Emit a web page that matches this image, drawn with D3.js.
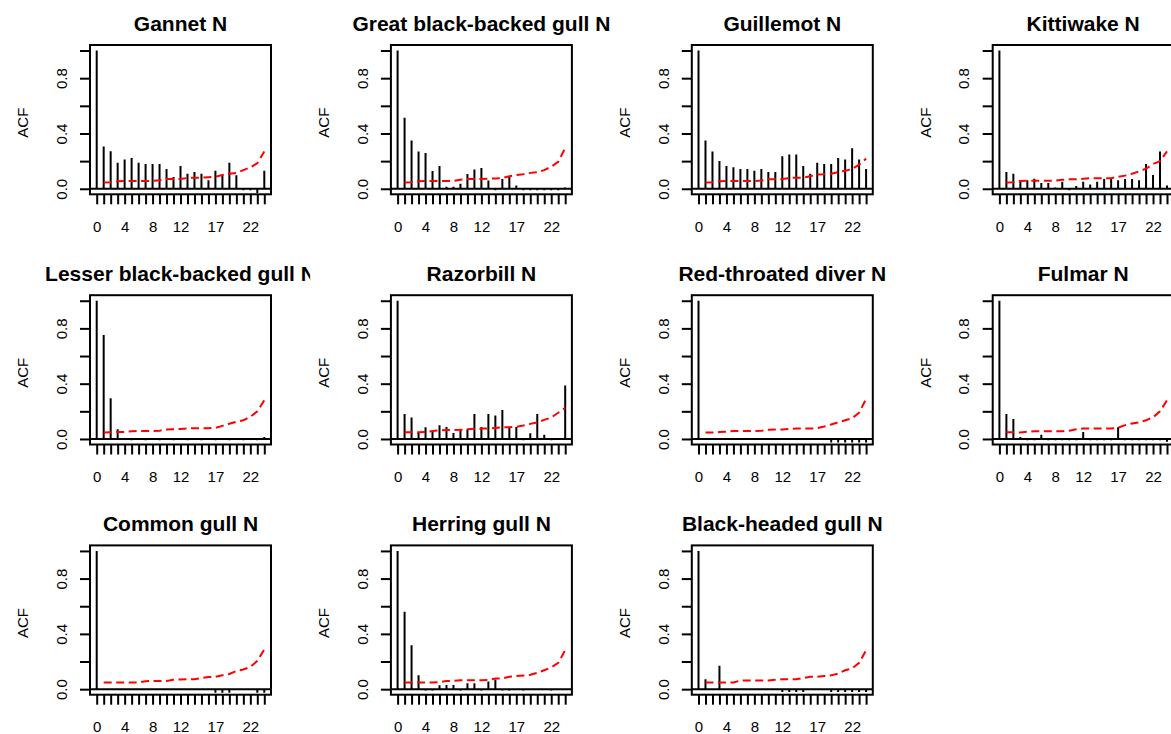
<!DOCTYPE html>
<html>
<head>
<meta charset="utf-8">
<script src="https://cdn.jsdelivr.net/npm/d3@7"></script>
<style>
  body { margin: 0; background: #fff; }
  svg { display: block; font-family: "Liberation Sans", Arial, sans-serif; }
</style>
</head>
<body>
<div id="chart"></div>
<script>
// lags shown on every panel, and which of them get a label
const lags = [0, 1, 2, 3, 4, 5, 6, 7, 8, 9, 10, 11, 12, 13, 14, 15, 16, 17, 18, 19, 20, 21, 22, 23, 24];
const xLabelLags = [0, 4, 8, 12, 17, 22];
const yTicks = [0, 0.2, 0.4, 0.6, 0.8, 1.0];
const yLabelTicks = [0, 0.4, 0.8];

const titles = ["Gannet N", "Great black-backed gull N", "Guillemot N", "Kittiwake N",
  "Lesser black-backed gull N", "Razorbill N", "Red-throated diver N", "Fulmar N",
  "Common gull N", "Herring gull N", "Black-headed gull N"];

// acf values, lag 0..24
const acfGannet = [1.0, 0.305, 0.271, 0.189, 0.211, 0.223, 0.189, 0.179, 0.179, 0.179, 0.143, 0.085, 0.165, 0.109, 0.121, 0.109, 0.061, 0.131, 0.104, 0.189, 0.097, -0.01, -0.01, -0.03, 0.131];
const acfGreatBB = [1.0, 0.513, 0.349, 0.269, 0.259, 0.128, 0.165, 0.015, 0.015, 0.036, 0.107, 0.14, 0.15, 0.06, -0.01, 0.07, 0.09, 0.024, -0.01, -0.01, -0.01, -0.01, -0.01, -0.01, 0.01];
const acfGuillemot = [1.0, 0.349, 0.269, 0.201, 0.165, 0.155, 0.143, 0.143, 0.131, 0.143, 0.121, 0.121, 0.235, 0.247, 0.247, 0.165, 0.109, 0.189, 0.179, 0.179, 0.223, 0.211, 0.293, 0.211, 0.143];
const acfKittiwake = [1.0, 0.121, 0.109, 0.061, 0.061, 0.073, 0.041, 0.041, 0.01, 0.051, -0.01, 0.02, 0.051, 0.03, 0.051, 0.07, 0.07, 0.061, 0.07, 0.07, 0.061, 0.179, 0.099, 0.269, 0.024];
const acfLesserBB = [1.0, 0.752, 0.294, 0.07, -0.005, -0.01, -0.005, -0.01, -0.005, -0.01, -0.005, -0.01, -0.005, -0.01, -0.005, -0.01, -0.005, -0.01, -0.005, -0.01, -0.005, -0.01, -0.005, -0.01, 0.015];
const acfRazorbill = [1.0, 0.18, 0.155, 0.046, 0.085, 0.058, 0.1, 0.087, 0.044, 0.073, 0.07, 0.18, 0.087, 0.18, 0.17, 0.21, 0.087, 0.087, -0.01, 0.041, 0.18, 0.031, -0.01, 0.0, 0.387];
const acfRedThroated = [1.0, -0.005, -0.005, -0.005, -0.005, -0.005, -0.005, -0.005, -0.005, -0.005, -0.005, -0.005, -0.005, -0.005, -0.005, -0.005, -0.005, -0.005, -0.005, -0.025, -0.025, -0.025, -0.025, -0.025, -0.025];
const acfFulmar = [1.0, 0.18, 0.145, 0.015, -0.01, -0.01, 0.03, -0.01, -0.01, -0.01, -0.01, -0.01, 0.05, -0.01, -0.01, -0.01, -0.01, 0.085, -0.01, -0.01, -0.01, -0.01, -0.01, -0.01, -0.02];
const acfCommonGull = [1.0, -0.005, -0.005, -0.005, -0.005, -0.005, -0.005, -0.005, -0.005, -0.005, -0.005, -0.005, -0.005, -0.005, -0.005, -0.005, -0.005, -0.025, -0.025, -0.025, -0.005, -0.005, -0.005, -0.025, -0.025];
const acfHerring = [1.0, 0.56, 0.318, 0.101, -0.01, -0.01, 0.029, 0.031, 0.031, -0.01, 0.043, 0.043, -0.01, 0.055, 0.07, -0.01, -0.01, 0.0, -0.01, 0.0, 0.0, 0.0, -0.01, 0.0, 0.0];
const acfBlackHeaded = [1.0, 0.072, 0.0, 0.169, -0.005, -0.005, -0.005, -0.005, -0.005, -0.005, -0.005, -0.005, -0.02, -0.02, -0.02, -0.02, -0.005, -0.005, -0.005, -0.02, -0.02, -0.02, -0.02, -0.02, -0.02];

// upper confidence bound, lag 1..24
const ciGannet = [0.046, 0.048, 0.055, 0.056, 0.056, 0.056, 0.056, 0.057, 0.062, 0.07, 0.07, 0.071, 0.078, 0.08, 0.08, 0.084, 0.087, 0.1, 0.108, 0.115, 0.135, 0.155, 0.185, 0.27];
const ciGreatBB = [0.046, 0.048, 0.055, 0.056, 0.056, 0.056, 0.056, 0.057, 0.065, 0.07, 0.07, 0.07, 0.072, 0.075, 0.078, 0.09, 0.1, 0.105, 0.115, 0.12, 0.135, 0.16, 0.195, 0.295];
const ciGuillemot = [0.046, 0.048, 0.055, 0.056, 0.056, 0.056, 0.056, 0.056, 0.06, 0.068, 0.068, 0.07, 0.078, 0.08, 0.08, 0.09, 0.103, 0.105, 0.109, 0.121, 0.131, 0.142, 0.175, 0.218];
const ciKittiwake = [0.046, 0.048, 0.056, 0.058, 0.058, 0.058, 0.058, 0.058, 0.065, 0.068, 0.068, 0.072, 0.077, 0.077, 0.077, 0.077, 0.087, 0.095, 0.109, 0.126, 0.145, 0.179, 0.2, 0.27];
const ciLesserBB = [0.046, 0.048, 0.05, 0.051, 0.056, 0.058, 0.058, 0.058, 0.06, 0.068, 0.07, 0.072, 0.076, 0.078, 0.078, 0.078, 0.08, 0.095, 0.11, 0.124, 0.135, 0.16, 0.2, 0.28];
const ciRazorbill = [0.048, 0.048, 0.048, 0.05, 0.058, 0.062, 0.065, 0.065, 0.066, 0.07, 0.074, 0.075, 0.075, 0.08, 0.085, 0.085, 0.088, 0.097, 0.109, 0.12, 0.138, 0.155, 0.19, 0.225];
const ciRedThroated = [0.046, 0.046, 0.05, 0.052, 0.058, 0.058, 0.058, 0.058, 0.06, 0.066, 0.068, 0.068, 0.072, 0.075, 0.075, 0.075, 0.078, 0.09, 0.105, 0.12, 0.135, 0.15, 0.19, 0.29];
const ciFulmar = [0.048, 0.048, 0.046, 0.052, 0.056, 0.056, 0.056, 0.056, 0.056, 0.06, 0.07, 0.075, 0.075, 0.075, 0.075, 0.075, 0.082, 0.1, 0.112, 0.12, 0.135, 0.157, 0.2, 0.28];
const ciCommonGull = [0.048, 0.048, 0.048, 0.048, 0.048, 0.048, 0.058, 0.06, 0.06, 0.06, 0.068, 0.07, 0.072, 0.072, 0.08, 0.088, 0.09, 0.1, 0.11, 0.132, 0.142, 0.161, 0.205, 0.287];
const ciHerring = [0.048, 0.048, 0.048, 0.048, 0.048, 0.05, 0.06, 0.06, 0.065, 0.065, 0.065, 0.065, 0.066, 0.077, 0.077, 0.09, 0.096, 0.098, 0.104, 0.118, 0.137, 0.157, 0.19, 0.282];
const ciBlackHeaded = [0.048, 0.048, 0.048, 0.048, 0.048, 0.063, 0.063, 0.063, 0.063, 0.063, 0.068, 0.072, 0.072, 0.072, 0.08, 0.09, 0.09, 0.095, 0.1, 0.113, 0.137, 0.15, 0.19, 0.282];

const acfs = [acfGannet, acfGreatBB, acfGuillemot, acfKittiwake, acfLesserBB, acfRazorbill,
  acfRedThroated, acfFulmar, acfCommonGull, acfHerring, acfBlackHeaded];
const cis = [ciGannet, ciGreatBB, ciGuillemot, ciKittiwake, ciLesserBB, ciRazorbill,
  ciRedThroated, ciFulmar, ciCommonGull, ciHerring, ciBlackHeaded];

const W = 1171, H = 734;
const FIG_W = 300.9, FIG_H = 250.2;   // one cell of the 4 x 3 grid
const BOX_W = 181, BOX_H = 149.3;

const svg = d3.select("#chart").append("svg")
  .attr("width", W).attr("height", H);

titles.forEach(function(title, i) {
  let col = i % 4, row = Math.floor(i / 4);
  let left = 90 + col * FIG_W, top = 45 + row * FIG_H;

  let x = d3.scaleLinear().domain([-0.96, 24.96]).range([left, left + BOX_W]);
  let y = d3.scaleLinear().domain([-0.04, 1.04]).range([top + BOX_H, top]);

  let g = svg.append("g").attr("class", "panel");

  // clip for the marks (plot region) and for the title (figure region)
  g.append("clipPath").attr("id", "plot-" + i)
    .append("rect").attr("x", left).attr("y", top).attr("width", BOX_W).attr("height", BOX_H);
  g.append("clipPath").attr("id", "fig-" + i)
    .append("rect").attr("x", left - 80.7).attr("y", top - 45).attr("width", FIG_W).attr("height", FIG_H);

  let plot = g.append("g").attr("clip-path", `url(#plot-${i})`);

  // zero line
  plot.append("line")
    .attr("x1", left).attr("x2", left + BOX_W)
    .attr("y1", y(0)).attr("y2", y(0))
    .attr("stroke", "#000").attr("stroke-width", 2);

  // acf spikes
  plot.selectAll("line.spike").data(acfs[i]).enter()
    .append("line").attr("class", "spike")
    .attr("x1", (d, k) => x(lags[k])).attr("x2", (d, k) => x(lags[k]))
    .attr("y1", y(0)).attr("y2", d => y(d))
    .attr("stroke", "#000").attr("stroke-width", 2);

  // upper bound, dashed red
  let line = d3.line().x((d, k) => x(lags[k + 1])).y(d => y(d));
  plot.append("path")
    .attr("d", line(cis[i]))
    .attr("fill", "none").attr("stroke", "#ff0000")
    .attr("stroke-width", 2).attr("stroke-dasharray", "8,4.5");

  // box
  g.append("rect")
    .attr("x", left).attr("y", top).attr("width", BOX_W).attr("height", BOX_H)
    .attr("fill", "none").attr("stroke", "#000").attr("stroke-width", 2);

  // x axis
  let xAxis = g.append("g")
    .attr("transform", `translate(0,${top + BOX_H})`)
    .call(d3.axisBottom(x).tickValues(lags).tickSize(10)
      .tickFormat(d => xLabelLags.includes(d) ? d : ""));
  xAxis.select(".domain").remove();
  xAxis.selectAll(".tick line").attr("stroke", "#000").attr("stroke-width", 2);
  xAxis.selectAll(".tick text")
    .attr("y", 37.5).attr("dy", 0)
    .attr("font-size", 15).attr("font-family", null).attr("fill", "#000");

  // y axis, labels turned like R's las=0
  let yAxis = g.append("g")
    .attr("transform", `translate(${left},0)`)
    .call(d3.axisLeft(y).tickValues(yTicks).tickSize(10)
      .tickFormat(d => yLabelTicks.includes(d) ? d3.format(".1f")(d) : ""));
  yAxis.select(".domain").remove();
  yAxis.selectAll(".tick line").attr("stroke", "#000").attr("stroke-width", 2);
  yAxis.selectAll(".tick text")
    .attr("transform", "rotate(-90)")
    .attr("x", 0).attr("y", -23.3).attr("dy", 0)
    .attr("text-anchor", "middle")
    .attr("font-size", 15).attr("font-family", null).attr("fill", "#000");

  // axis title
  let cy = top + BOX_H / 2 + 3;
  g.append("text")
    .attr("transform", `translate(${left - 61.7},${cy}) rotate(-90)`)
    .attr("text-anchor", "middle")
    .attr("font-size", 15)
    .text("ACF");

  // panel title
  g.append("text")
    .attr("clip-path", `url(#fig-${i})`)
    .attr("x", left + BOX_W / 2).attr("y", top - 14)
    .attr("text-anchor", "middle")
    .attr("font-size", 21).attr("font-weight", "bold")
    .text(title);
});
</script>
</body>
</html>
